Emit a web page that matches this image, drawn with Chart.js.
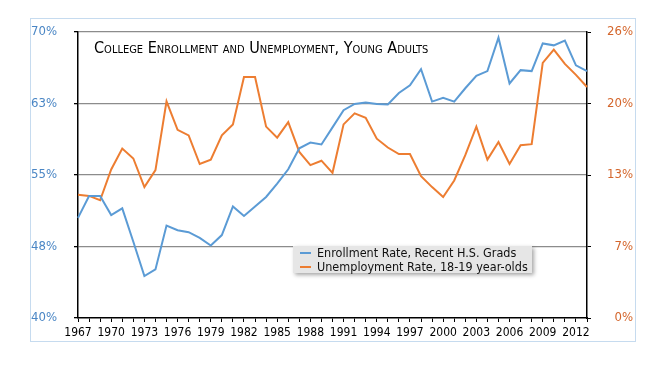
<!DOCTYPE html>
<html>
<head>
<meta charset="utf-8">
<script src="https://cdn.jsdelivr.net/npm/chart.js@4.4.0/dist/chart.umd.min.js"></script>
<style>
  html, body { margin: 0; padding: 0; background: #fff; }
  canvas { display: block; }
</style>
</head>
<body>
<canvas id="chart" width="656" height="368"></canvas>
<script>
// data
const years = [
  1967, 1968, 1969, 1970, 1971, 1972, 1973, 1974, 1975, 1976,
  1977, 1978, 1979, 1980, 1981, 1982, 1983, 1984, 1985, 1986,
  1987, 1988, 1989, 1990, 1991, 1992, 1993, 1994, 1995, 1996,
  1997, 1998, 1999, 2000, 2001, 2002, 2003, 2004, 2005, 2006,
  2007, 2008, 2009, 2010, 2011, 2012, 2013
];
const enrollment = [
  50.5, 52.8, 52.8, 50.8, 51.5, 48.0, 44.4, 45.1, 49.7, 49.2,
  49.0, 48.4, 47.6, 48.7, 51.7, 50.7, 51.7, 52.7, 54.1, 55.6,
  57.8, 58.4, 58.2, 60.0, 61.8, 62.45, 62.6, 62.45, 62.4, 63.6,
  64.4, 66.1, 62.7, 63.1, 62.7, 64.1, 65.4, 65.9, 69.4, 64.6,
  66.0, 65.9, 68.8, 68.6, 69.1, 66.5, 65.9
];
const unemployment = [
  11.2, 11.1, 10.7, 13.5, 15.4, 14.5, 11.9, 13.45, 19.7, 17.1,
  16.6, 14.0, 14.4, 16.6, 17.6, 21.9, 21.9, 17.4, 16.4, 17.8,
  15.1, 13.9, 14.3, 13.2, 17.6, 18.6, 18.2, 16.3, 15.5, 14.9,
  14.9, 12.9, 11.9, 11.0, 12.5, 14.8, 17.4, 14.4, 16.0, 14.0,
  15.7, 15.8, 23.2, 24.4, 23.1, 22.1, 21.0
];
const seriesLabels = [
  'Enrollment Rate, Recent H.S. Grads',
  'Unemployment Rate, 18-19 year-olds'
];
const titleText = 'College Enrollment and Unemployment, Young Adults';
const leftRange = [40, 70];
const rightRange = [0, 26];

const BLUE = '#5b9bd5';
const ORANGE = '#ed7d31';
const FONT = '"DejaVu Sans Condensed", "DejaVu Sans", sans-serif';

// frame, title and legend box
const decor = {
  id: 'decor',
  beforeDraw(chart) {
    const ctx = chart.ctx;
    ctx.save();
    ctx.fillStyle = '#fff';
    ctx.fillRect(0, 0, chart.width, chart.height);
    ctx.strokeStyle = '#c6dbef';
    ctx.lineWidth = 1;
    ctx.strokeRect(30.5, 18.5, 605, 323);
    ctx.restore();
  },
  afterDraw(chart) {
    const ctx = chart.ctx;
    const a = chart.chartArea;
    ctx.save();
    ctx.fillStyle = '#000';
    ctx.font = '16.1px ' + FONT;
    ctx.fontVariantCaps = 'small-caps';
    ctx.textBaseline = 'alphabetic';
    ctx.fillText(titleText, a.left + 16, a.top + 21);
    ctx.fontVariantCaps = 'normal';

    // legend
    const lx = 293, ly = 246, lw = 239, lh = 27;
    ctx.shadowColor = 'rgba(0,0,0,0.35)';
    ctx.shadowBlur = 4;
    ctx.shadowOffsetX = 2;
    ctx.shadowOffsetY = 2;
    ctx.fillStyle = '#e6e6e6';
    ctx.fillRect(lx, ly, lw, lh);
    ctx.shadowColor = 'transparent';
    ctx.font = '12.5px ' + FONT;
    ctx.textBaseline = 'middle';
    chart.data.datasets.forEach((ds, i) => {
      const y = ly + 7 + i * 14;
      ctx.strokeStyle = ds.borderColor;
      ctx.lineWidth = 2;
      ctx.beginPath();
      ctx.moveTo(lx + 7, y);
      ctx.lineTo(lx + 18, y);
      ctx.stroke();
      ctx.fillStyle = '#111';
      ctx.fillText(ds.label, lx + 24, y + 1);
    });
    ctx.restore();
  }
};

new Chart(document.getElementById('chart'), {
  type: 'line',
  data: {
    labels: years,
    datasets: [{
      label: seriesLabels[0],
      data: enrollment,
      borderColor: BLUE,
      borderWidth: 2,
      yAxisID: 'y',
    }, {
      label: seriesLabels[1],
      data: unemployment,
      borderColor: ORANGE,
      borderWidth: 2,
      yAxisID: 'y2',
    }]
  },
  options: {
    responsive: false,
    animation: false,
    layout: { padding: { top: 32, left: 31, right: 23, bottom: 0 } },
    elements: {
      point: { radius: 0 },
      line: { tension: 0 }
    },
    plugins: {
      legend: { display: false },
      title: { display: false },
      tooltip: { enabled: false }
    },
    scales: {
      x: {
        offset: false,
        afterFit: s => { s.height = 50; },
        grid: {
          drawOnChartArea: false,
          tickLength: 4,
          tickColor: '#000',
          offset: false
        },
        border: { color: '#000', width: 1.5 },
        ticks: {
          autoSkip: false,
          maxRotation: 0,
          padding: 4,
          color: '#000',
          font: { family: FONT, size: 12 },
          callback: function (val, index) {
            return index % 3 === 0 ? this.getLabelForValue(val) : '';
          }
        }
      },
      y: {
        position: 'left',
        min: leftRange[0],
        max: leftRange[1],
        afterFit: s => { s.width = 47; },
        grid: {
          color: ctx => ctx.tick && ctx.tick.value === leftRange[0] ? 'rgba(0,0,0,0)' : '#8c8c8c',
          lineWidth: 1.3,
          tickLength: 4,
          tickColor: '#000'
        },
        border: { color: '#000', width: 1.5 },
        ticks: {
          stepSize: 7.5,
          crossAlign: 'far',
          color: '#4a86c5',
          font: { family: FONT, size: 13 },
          callback: v => Math.round(v) + '%'
        }
      },
      y2: {
        position: 'right',
        min: rightRange[0],
        max: rightRange[1],
        afterFit: s => { s.width = 46; },
        grid: {
          drawOnChartArea: false,
          tickLength: 4,
          tickColor: '#000'
        },
        border: { color: '#000', width: 1.5 },
        ticks: {
          stepSize: 6.5,
          crossAlign: 'far',
          color: '#d4662c',
          font: { family: FONT, size: 13 },
          callback: v => Math.round(v) + '%'
        }
      }
    }
  },
  plugins: [decor]
});
</script>
</body>
</html>
